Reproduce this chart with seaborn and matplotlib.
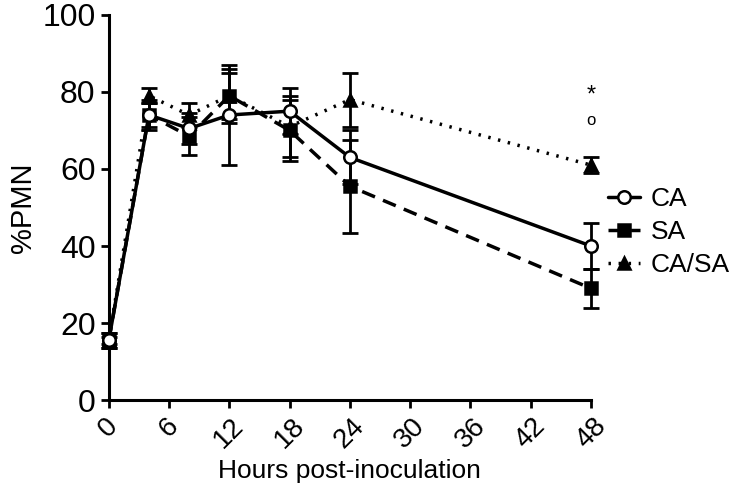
import numpy as np
import pandas as pd
import matplotlib
matplotlib.use("Agg")
import matplotlib.pyplot as plt
import seaborn as sns

# dane
hours = [0, 4, 8, 12, 18, 24, 48]
ca_mean = [15.5, 74, 70.5, 74, 75, 63, 40]
ca_err = [2, 3, 4, 13, 6, 7, 6]
sa_mean = [15.5, 74, 68.5, 79, 70, 55.5, 29]
sa_err = [2, 4, 5, 7, 8, 12, 5]
casa_mean = [15.5, 79, 74, 79, 71, 78, 61]
casa_err = [1, 2, 3, 6, 8, 7, 2]
x_ticks = [0, 6, 12, 18, 24, 30, 36, 42, 48]
y_ticks = [0, 20, 40, 60, 80, 100]

sns.set_style("ticks")
plt.rcParams['font.family'] = ['Liberation Sans', 'DejaVu Sans']
for k in ['text.color', 'axes.labelcolor', 'xtick.color', 'ytick.color', 'axes.edgecolor']:
    plt.rcParams[k] = 'black'

fig = plt.figure(figsize=(7.5, 4.94), dpi=100)
ax = fig.add_axes([0.145, 0.19, 0.643, 0.78])

series = [
    ('CA/SA', casa_mean, casa_err, '^', 'black', (0, (0.7, 2.2))),
    ('SA', sa_mean, sa_err, 's', 'black', (0, (4, 2.5))),
    ('CA', ca_mean, ca_err, 'o', 'white', '-'),
]

handles = {}
for name, mean, err, mk, face, ls in series:
    df = pd.DataFrame({'hours': hours, 'pmn': mean})
    ax.errorbar(hours, mean, yerr=err, fmt='none', ecolor='black',
                elinewidth=2, capsize=6, capthick=2, clip_on=False, zorder=2)
    sns.lineplot(data=df, x='hours', y='pmn', ax=ax, color='black',
                 linewidth=2.5, linestyle=ls, marker=mk, markersize=9,
                 markerfacecolor=face, markeredgecolor='black',
                 markeredgewidth=1.8, clip_on=False, zorder=3)
    handles[name] = ax.lines[-1]

ax.text(48, 79, '*', ha='center', va='center', fontsize=17)
ax.text(48, 72.5, 'o', ha='center', va='center', fontsize=12)

ax.set_xlim(0, 48)
ax.set_ylim(0, 100)
ax.set_xticks(x_ticks)
ax.set_yticks(y_ticks)
ax.set_xticklabels([str(t) for t in x_ticks], rotation=45, ha='center',
                   va='top', fontsize=20)
ax.tick_params(axis='y', labelsize=23)
ax.tick_params(width=2, length=6, direction='out')
for s in ['left', 'bottom']:
    ax.spines[s].set_linewidth(2.2)
sns.despine(ax=ax)

ax.set_xlabel('Hours post-inoculation', fontsize=19)
ax.set_ylabel('%PMN', fontsize=21)

order = ['CA', 'SA', 'CA/SA']
fig.legend([handles[n] for n in order], order, loc='center left',
           bbox_to_anchor=(0.79, 0.53), frameon=False, fontsize=19,
           handlelength=1.2, labelspacing=0.35, handletextpad=0.4,
           borderaxespad=0.2)

fig.savefig('out.png', dpi=100)
